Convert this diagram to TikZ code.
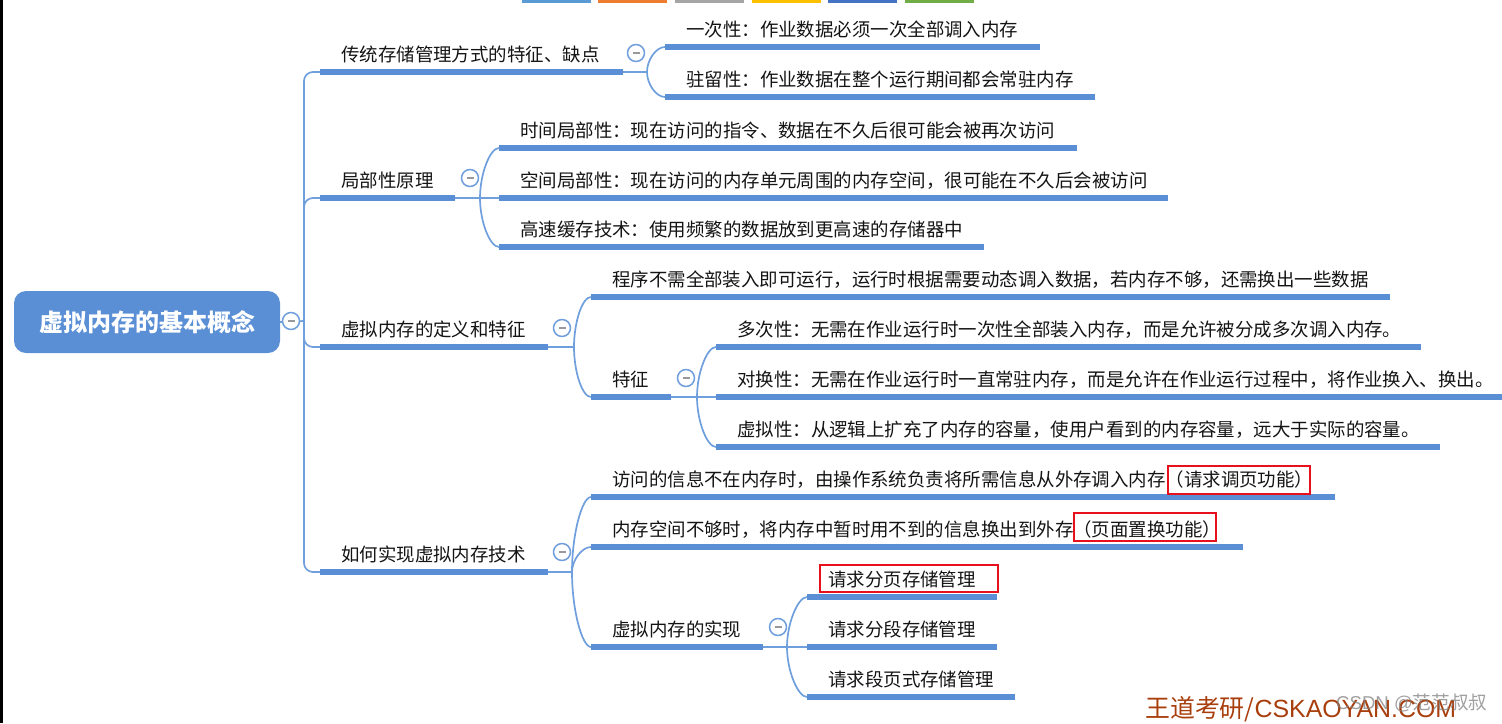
\documentclass[tikz,border=0pt]{standalone}
\usepackage{fontspec}
\setmainfont{Noto Sans CJK SC}
\newfontfamily\latinfont{Liberation Sans}
\usepackage{tikz}
\usetikzlibrary{positioning, calc}
\definecolor{mapblue}{HTML}{5A8FD6}
\definecolor{twigblue}{HTML}{6F9FDC}
\definecolor{markred}{HTML}{E8101C}
\definecolor{stampred}{HTML}{A83E0C}
\tikzset{
    rootbox/.style={fill=mapblue, rounded corners=12pt, minimum width=266pt, minimum height=62pt, inner sep=0pt, text=white, font=\fontsize{24}{28}\selectfont\bfseries},
    barnode/.style={fill=mapblue, minimum height=5.4pt, inner sep=0pt, outer sep=0pt, anchor=west},
    topic/.style={inner sep=0pt, anchor=west, text=black!92, font=\fontsize{18.45}{22}\selectfont},
    twig/.style={draw=twigblue, line width=1.7pt},
    twigup/.style={out=90, in=180, out distance=#1, in distance=9pt},
    twigdown/.style={out=-90, in=180, out distance=#1, in distance=9pt},
    redbox/.style={draw=markred, line width=1.3pt, inner sep=0pt},
    toggle/.style={circle, draw=twigblue, line width=1.5pt, fill=white, minimum size=17pt, inner sep=0pt,
        path picture={\draw[black!40, line width=1.2pt] ($(path picture bounding box.center)+(-3.5pt,0)$) -- ($(path picture bounding box.center)+(3.5pt,0)$);}},
    tab/.style={minimum width=68.5pt, minimum height=3pt, inner sep=0pt, outer sep=0pt}
}
\begin{document}
\begin{tikzpicture}[x=1pt, y=-1pt]
    \useasboundingbox (0,0) rectangle (1502,723);
    % window edge and colour tabs
    \node[fill=black, minimum width=3pt, minimum height=723pt, inner sep=0pt, anchor=north west] (edge) at (0,0) {};
    \foreach \tabname/\xa/\col in {tabA/522/5B9BD5, tabB/598/ED7D31, tabC/675/A5A5A5, tabD/752/FFC000, tabE/828/4472C4, tabF/905/70AD47} {
        \definecolor{tabcol}{HTML}{\col}
        \node[tab, fill=tabcol, anchor=north west] (\tabname) at (\xa,0) {};
    }
    \node[rootbox] (root) at (147,322) {虚拟内存的基本概念};
    % all bars with their text
    \foreach \name/\xa/\xb/\y/\txt in {
        trad/320/623/72/{传统存储管理方式的特征、缺点},
        local/320/455/198/{局部性原理},
        defn/320/548/347/{虚拟内存的定义和特征},
        impl/320/548/572/{如何实现虚拟内存技术},
        once/665/1040/47/{一次性：作业数据必须一次全部调入内存},
        stay/665/1095/97/{驻留性：作业数据在整个运行期间都会常驻内存},
        tlocal/499/1077/148/{时间局部性：现在访问的指令、数据在不久后很可能会被再次访问},
        slocal/499/1168/198/{空间局部性：现在访问的内存单元周围的内存空间，很可能在不久后会被访问},
        cache/499/984/247/{高速缓存技术：使用频繁的数据放到更高速的存储器中},
        prog/591/1390/297/{程序不需全部装入即可运行，运行时根据需要动态调入数据，若内存不够，还需换出一些数据},
        feat/591/671/397/{特征},
        multi/716/1421/347/{多次性：无需在作业运行时一次性全部装入内存，而是允许被分成多次调入内存。},
        swap/716/1502/397/{对换性：无需在作业运行时一直常驻内存，而是允许在作业运行过程中，将作业换入、换出。},
        virt/716/1440/447/{虚拟性：从逻辑上扩充了内存的容量，使用户看到的内存容量，远大于实际的容量。},
        fetch/591/1335/497/{访问的信息不在内存时，由操作系统负责将所需信息从外存调入内存（请求调页功能）},
        evict/591/1243/547/{内存空间不够时，将内存中暂时用不到的信息换出到外存（页面置换功能）},
        real/591/763/647/{虚拟内存的实现},
        page/807/997/597/{请求分页存储管理},
        segm/807/997/647/{请求分段存储管理},
        pgseg/807/1015/697/{请求段页式存储管理}} {
        \node[barnode, minimum width=\xb-\xa] (\name) at (\xa,\y) {};
        \path (\name.west) ++(21,-17.5) node[topic] (\name Txt) {\txt};
    }
    % hubs where the branches split
    \coordinate (hubRoot) at (304,321);
    \coordinate (hubTrad) at (647,72);
    \coordinate (hubLocal) at (480,198);
    \coordinate (hubDefn) at (574,347);
    \coordinate (hubFeat) at (697,397);
    \coordinate (hubImpl) at (572,572);
    \coordinate (hubReal) at (787,647);
    % connectors
    \draw[twig] (root.east) -- (hubRoot);
    \foreach \child in {trad, local, defn, impl}
        \draw[twig, rounded corners=9pt] (hubRoot) |- (\child.west);
    \draw[twig] (trad.east) -- (hubTrad);
    \draw[twig] (hubTrad) to[twigup=12pt] (once.west);
    \draw[twig] (hubTrad) to[twigdown=12pt] (stay.west);
    \draw[twig] (local.east) -- (slocal.west);
    \draw[twig] (hubLocal) to[twigup=24pt] (tlocal.west);
    \draw[twig] (hubLocal) to[twigdown=24pt] (cache.west);
    \draw[twig] (defn.east) -- (hubDefn);
    \draw[twig] (hubDefn) to[twigup=24pt] (prog.west);
    \draw[twig] (hubDefn) to[twigdown=24pt] (feat.west);
    \draw[twig] (feat.east) -- (swap.west);
    \draw[twig] (hubFeat) to[twigup=24pt] (multi.west);
    \draw[twig] (hubFeat) to[twigdown=24pt] (virt.west);
    \draw[twig] (impl.east) -- (hubImpl);
    \draw[twig] (hubImpl) to[twigup=38pt] (fetch.west);
    \draw[twig] (hubImpl) to[twigup=12pt] (evict.west);
    \draw[twig] (hubImpl) to[twigdown=38pt] (real.west);
    \draw[twig] (real.east) -- (segm.west);
    \draw[twig] (hubReal) to[twigup=24pt] (page.west);
    \draw[twig] (hubReal) to[twigdown=24pt] (pgseg.west);
    % collapse buttons
    \foreach \tname/\xa/\y in {togRoot/291/321, togTrad/636/53, togLocal/470/178, togDefn/562/328, togFeat/686/378, togImpl/562/552, togReal/778/627}
        \node[toggle] (\tname) at (\xa,\y) {};
    % red marks
    \node[redbox, minimum width=142pt, minimum height=28pt] (markFetch) at (1239,480) {};
    \node[redbox, minimum width=142pt, minimum height=28pt] (markEvict) at (1145,527) {};
    \node[redbox, minimum width=178pt, minimum height=27pt] (markPage) at (909,578.5) {};
    % stamps
    \node[inner sep=0pt, anchor=west, text=stampred, font=\fontsize{24.9}{28}\selectfont] (stamp) at (1145,709) {王道考研/{\latinfont CSKAOYAN.COM}};
    \node[inner sep=0pt, anchor=west, text=black!50, opacity=0.75, font=\fontsize{18.6}{22}\selectfont] (csdn) at (1336,703) {{\latinfont CSDN @}范范叔叔};
\end{tikzpicture}
\end{document}
